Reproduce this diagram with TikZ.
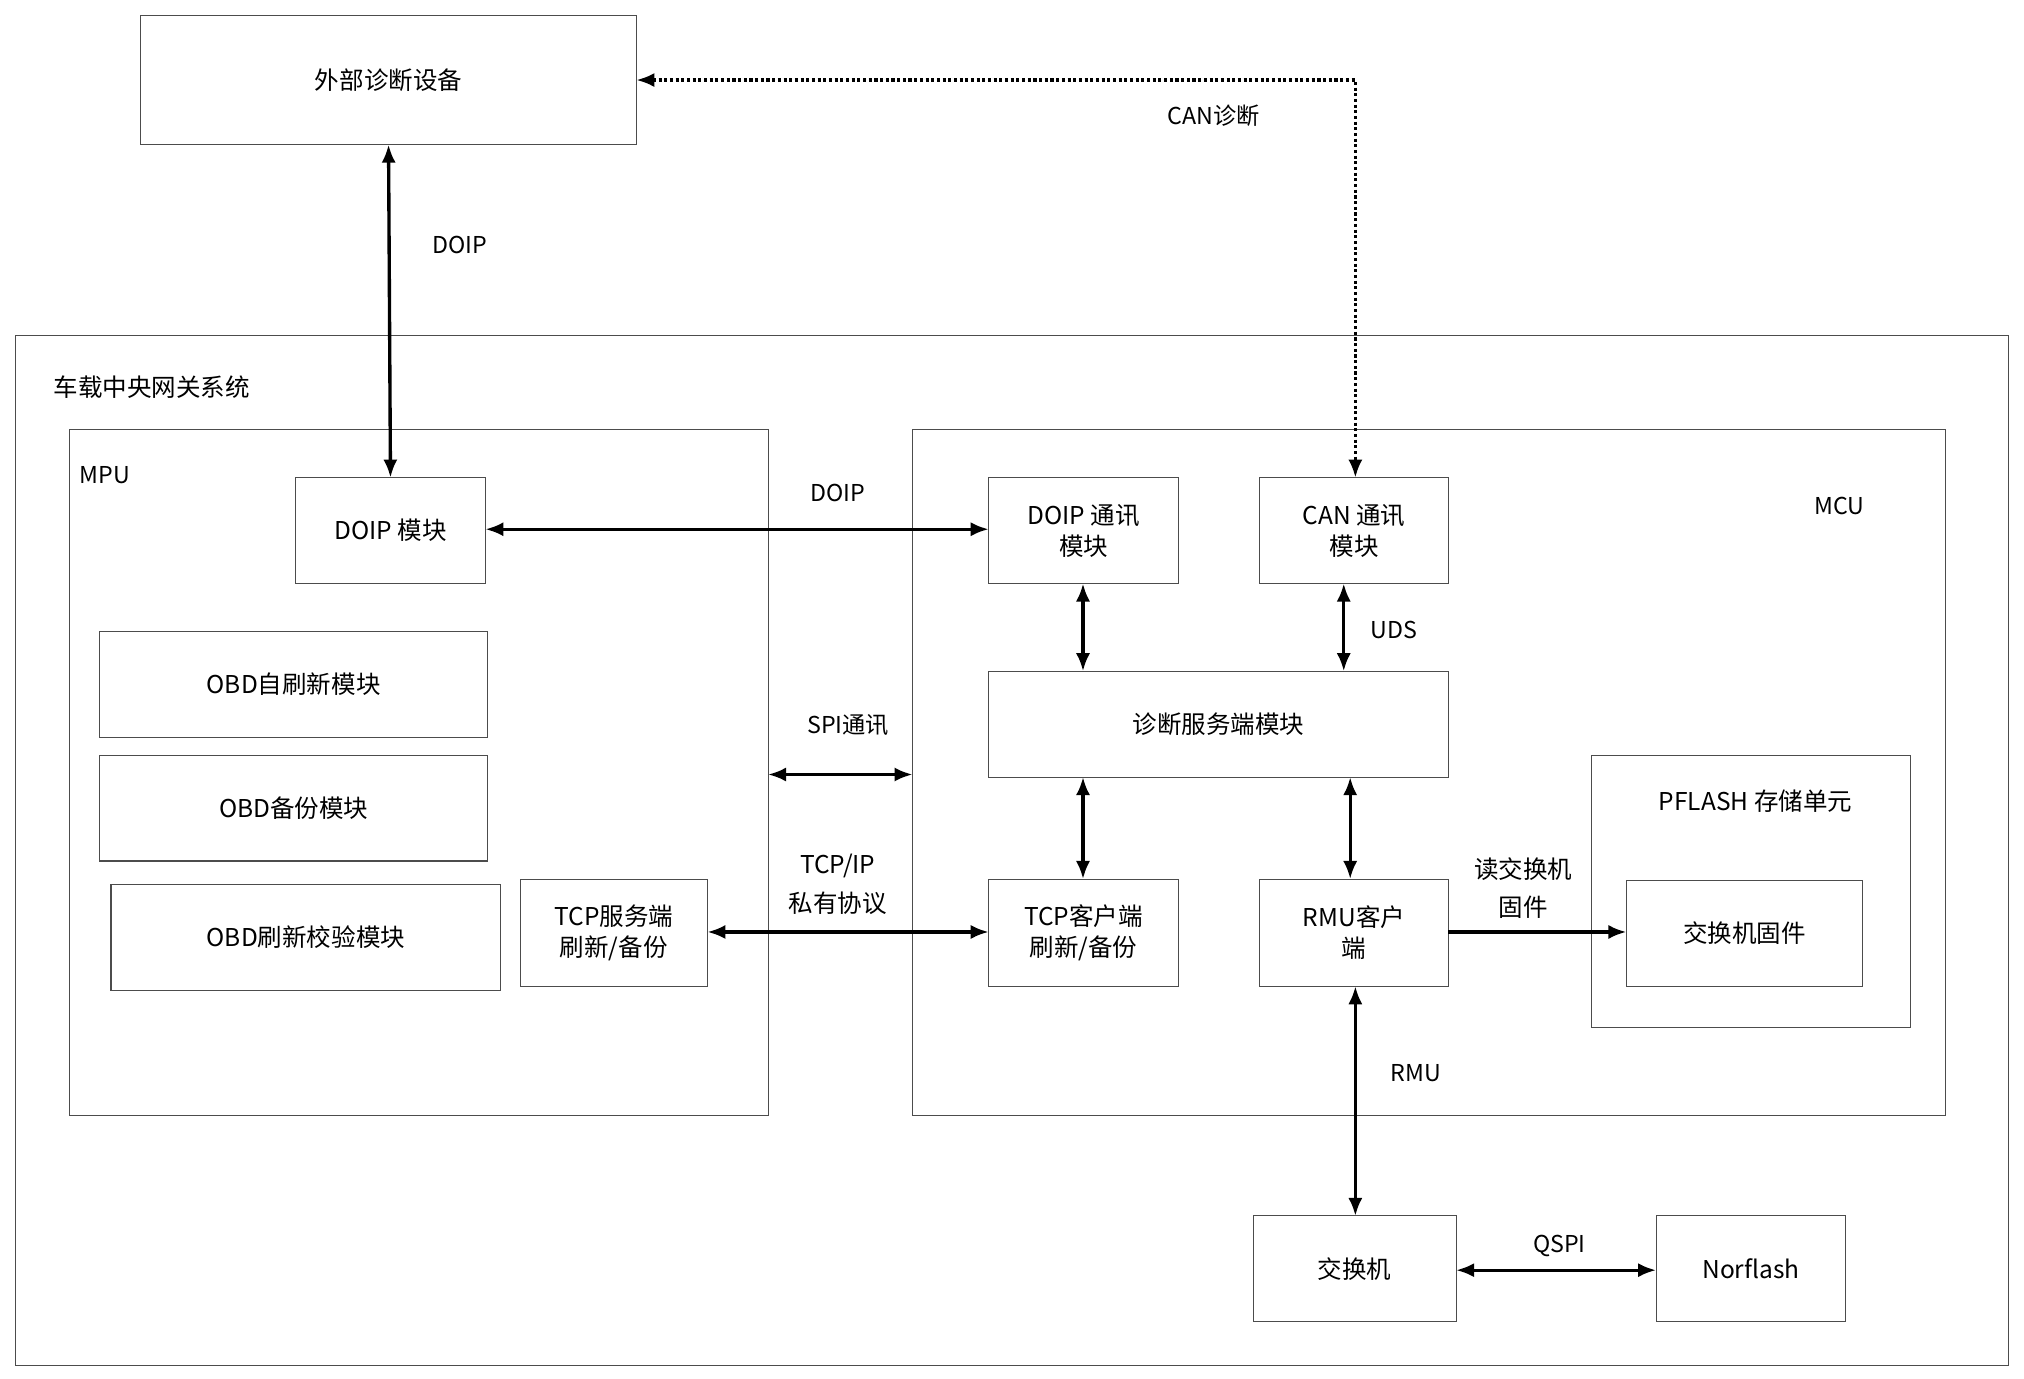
\documentclass[tikz,border=0pt]{standalone}
\usepackage{fontspec}
\setmainfont{Noto Sans CJK SC}
\usetikzlibrary{arrows.meta}
\begin{document}
\begin{tikzpicture}[x=1pt,y=-1pt,
 box/.style={draw=black!70,line width=0.8pt,minimum width=0pt,inner sep=0pt},
 txt/.style={font=\fontsize{19}{24}\selectfont,align=center},
 lab/.style={font=\fontsize{18}{23}\selectfont,align=center},
 ar/.style={line width=2.6pt,{Latex[length=14pt,width=11pt]}-{Latex[length=14pt,width=11pt]}},
 ar1/.style={line width=2.6pt,-{Latex[length=14pt,width=11pt]}}]
\useasboundingbox (0,0) rectangle (1568,1068);
\fill[white] (0,0) rectangle (1568,1068);
\newcommand\bx[6]{\draw[black!70,line width=0.8pt] (#2,#3) rectangle (#4,#5); \node[txt] (#1) at ({(#2+#4)/2},{(#3+#5)/2}) {#6}; \coordinate (#1-nw) at (#2,#3); \coordinate (#1-se) at (#4,#5);}
\bx{ext}{109}{12}{493}{112}{外部诊断设备}
\draw[black!70,line width=0.8pt] (12,260) rectangle (1556,1058);
\node[txt,anchor=west] (sys) at (38,300) {车载中央网关系统};
\draw[black!70,line width=0.8pt] (54,333) rectangle (595,864);
\node[lab,anchor=west] (mpu) at (58,368) {MPU};
\draw[black!70,line width=0.8pt] (707,333) rectangle (1507,864);
\node[lab] (mcu) at (1425,392) {MCU};
\bx{doip}{229}{370}{376}{452}{DOIP 模块}
\bx{obd1}{77}{489}{378}{571}{OBD自刷新模块}
\bx{obd2}{77}{585}{378}{667}{OBD备份模块}
\bx{obd3}{86}{685}{388}{767}{OBD刷新校验模块}
\bx{tcps}{403}{681}{548}{764}{TCP服务端\\刷新/备份}
\bx{doipc}{766}{370}{913}{452}{DOIP 通讯\\模块}
\bx{can}{976}{370}{1122}{452}{CAN 通讯\\模块}
\bx{diag}{766}{520}{1122}{602}{诊断服务端模块}
\bx{tcpc}{766}{681}{913}{764}{TCP客户端\\刷新/备份}
\bx{rmu}{976}{681}{1122}{764}{RMU客户\\端}
\draw[black!70,line width=0.8pt] (1233,585) rectangle (1480,796);
\node[txt] (pf) at (1360,621) {PFLASH 存储单元};
\bx{fw}{1260}{682}{1443}{764}{交换机固件}
\bx{sw}{971}{942}{1128}{1024}{交换机}
\bx{nor}{1283}{942}{1430}{1024}{Norflash}
\coordinate (c1) at (1050,62);
\draw[ar] (ext) ++(0,50) -- (doip.north |- 0,370);
\draw[line width=2.4pt,dotted,{Latex[length=14pt,width=11pt]}-{Latex[length=14pt,width=11pt]}] (493,62) -- (c1) -- (1050,370);
\draw[ar] (376,410) -- (766,410);
\draw[ar] (595,600) -- (707,600);
\draw[ar] (548,722) -- (766,722);
\draw[ar] (839,452) -- (839,520);
\draw[ar] (1041,452) -- (1041,520);
\draw[ar] (839,602) -- (839,681);
\draw[ar] (1046,602) -- (1046,681);
\draw[ar1] (1122,722) -- (1260,722);
\draw[ar] (1050,764) -- (1050,942);
\draw[ar] (1128,984) -- (1283,984);
\node[lab] (l1) at (356,190) {DOIP};
\node[lab] (l2) at (940,90) {CAN诊断};
\node[lab] (l3) at (649,382) {DOIP};
\node[lab] (l4) at (657,562) {SPI通讯};
\node[lab,font=\fontsize{19}{30}\selectfont] (l5) at (649,685) {TCP/IP\\私有协议};
\node[lab] (l6) at (1080,488) {UDS};
\node[lab,font=\fontsize{19}{30}\selectfont] (l7) at (1180,688) {读交换机\\固件};
\node[lab] (l8) at (1097,831) {RMU};
\node[lab] (l9) at (1208,965) {QSPI};
\end{tikzpicture}
\end{document}
